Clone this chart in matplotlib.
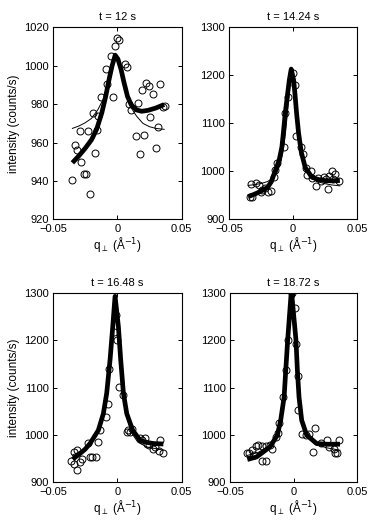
#!/usr/bin/env python3
"""Four-panel scattering profiles: intensity vs q_perp at four times.
Open circles = data, thin line = symmetric fit, thick line = asymmetric fit."""
import matplotlib; matplotlib.use("Agg")
import matplotlib.pyplot as plt

plt.rcParams["font.family"] = ["Liberation Sans", "DejaVu Sans"]
plt.rcParams["font.size"] = 8

titles = ["t = 12 s", "t = 14.24 s", "t = 16.48 s", "t = 18.72 s"]
xticks = [-0.05, 0, 0.05]
xticklabels = ["\u22120.05", "0", "0.05"]
yticks_first = [920, 940, 960, 980, 1000, 1020]
yticks_rest = [900, 1000, 1100, 1200, 1300]

# --- t = 12 s ---
q1 = [-0.0349, -0.0211, -0.0255, -0.0242, -0.0330, -0.0315, -0.0279, -0.0174,
      -0.0289, -0.0224, -0.0159, -0.0190, -0.0146, -0.0125, -0.0036, -0.0089,
      -0.0076, -0.0052, -0.0016, -0.0003, 0.0010, 0.0057, 0.0076, 0.0224,
      0.0245, 0.0193, 0.0276, 0.0331, 0.0089, 0.0161, 0.0109, 0.0370,
      0.0354, 0.0258, 0.0315, 0.0146, 0.0211, 0.0302, 0.0174]
i1 = [940.7, 933.5, 943.8, 943.6, 959.0, 956.3, 949.8, 954.4,
      966.3, 965.9, 966.6, 975.2, 973.8, 983.6, 983.6, 998.3,
      990.7, 1005.3, 1010.2, 1014.5, 1013.6, 1001.0, 999.3, 991.0,
      989.3, 987.6, 985.5, 990.3, 980.0, 980.7, 977.2, 979.1,
      978.6, 973.4, 967.9, 963.4, 963.8, 957.2, 954.0]
fit_q1 = [-0.0349, -0.030, -0.025, -0.020, -0.016, -0.012, -0.009, -0.006, -0.004,
          -0.0016, 0.0005, 0.003, 0.005, 0.008, 0.011, 0.015, 0.019, 0.024, 0.030, 0.0365]
fit_i1 = [949.5, 953.0, 957.0, 961.5, 967.0, 975.5, 984.0, 994.0, 1000.0,
          1005.5, 1003.5, 998.0, 992.0, 984.0, 979.5, 977.0, 976.3, 976.8, 978.0, 979.8]
sym_q1 = [-0.0349, -0.030, -0.025, -0.020, -0.015, -0.011, -0.008, -0.005, -0.003, -0.0015,
          0.0, 0.0015, 0.003, 0.005, 0.008, 0.011, 0.015, 0.020, 0.025, 0.030, 0.0365]
sym_i1 = [967.4, 968.6, 970.3, 972.6, 977.2, 982.5, 989.0, 996.5, 1001.5, 1004.5,
          1004.8, 1002.5, 998.0, 991.0, 983.5, 978.0, 973.8, 970.0, 968.3, 967.4, 966.9]

# --- t = 14.24 s ---
q2 = [-0.0341, -0.0320, -0.0333, -0.0289, -0.0268, -0.0242, -0.0195, -0.0176,
      -0.0250, -0.0220, -0.0002, 0.0017, -0.0042, -0.0067, 0.0022, -0.0075,
      0.0064, -0.0127, -0.0140, -0.0153, 0.0147, 0.0077, 0.0103, 0.0137,
      0.0110, 0.0181, 0.0215, 0.0241, 0.0280, 0.0301, 0.0327, 0.0359,
      0.0275, 0.0254, 0.0314, 0.0198]
i2 = [946.2, 946.2, 973.3, 976.6, 971.8, 961.4, 957.9, 960.0,
      957.0, 965.0, 1205.0, 1180.0, 1155.6, 1121.0, 1073.8, 1051.5,
      1051.5, 1018.0, 1003.0, 989.0, 985.7, 1036.3, 1006.5, 1001.6,
      991.9, 969.7, 980.7, 989.0, 990.5, 1001.6, 994.7, 980.7,
      962.8, 983.5, 984.0, 987.0]
fit_q2 = [-0.0352, -0.030, -0.025, -0.020, -0.017, -0.0153, -0.0125, -0.0109, -0.0088,
          -0.0077, -0.0062, -0.0043, -0.003, -0.0015, 0.0004, 0.0014, 0.0027, 0.0043,
          0.0064, 0.0095, 0.0147, 0.020, 0.025, 0.030, 0.0366]
fit_i2 = [947.5, 953, 959, 967, 979, 992, 1012, 1024, 1051,
          1079, 1121, 1162, 1190, 1213, 1190, 1162, 1121, 1079,
          1040, 1008, 988, 983, 981, 980.5, 981]
sym_q2 = [-0.0352, -0.030, -0.025, -0.020, -0.016, -0.013, -0.010, -0.008, -0.006, -0.004,
          -0.0025, -0.0012, 0.0003, 0.0015, 0.003, 0.005, 0.007, 0.010, 0.014, 0.018,
          0.024, 0.030, 0.0366]
sym_i2 = [971, 972.5, 975, 979, 986, 996, 1015, 1040, 1080, 1135,
          1180, 1210, 1190, 1160, 1120, 1075, 1040, 1010, 990, 980,
          975, 972, 970]

# --- t = 16.48 s ---
q3 = [-0.0339, -0.0313, -0.0339, -0.0313, -0.0272, -0.0228, -0.0214, -0.0194,
      -0.0168, -0.0292, -0.0358, -0.0150, -0.0025, 0.0001, -0.0012, -0.0062,
      0.0016, 0.0048, -0.0069, -0.0087, -0.0134, 0.0074, 0.0113, 0.0084,
      0.0097, 0.0180, 0.0195, 0.0215, 0.0331, 0.0279, 0.0326, 0.0357,
      0.0235, 0.0250, 0.0295]
i3 = [938.6, 925.9, 964.5, 968.1, 950.5, 982.2, 954.0, 954.0,
      954.0, 943.4, 945.0, 985.6, 1217.4, 1200.0, 1252.0, 1140.0,
      1101.5, 1084.0, 1065.0, 1038.3, 1010.0, 1006.7, 1011.7, 1010.2,
      1006.7, 992.7, 990.0, 994.0, 989.0, 969.5, 966.6, 962.4,
      982.0, 978.0, 975.0]
fit_q3 = [-0.0347, -0.029, -0.025, -0.0212, -0.0147, -0.0108, -0.0082, -0.0056, -0.0035,
          -0.0017, 0.0009, 0.0027, 0.0048, 0.0074, 0.012, 0.0177, 0.022, 0.0281, 0.0359]
fit_i3 = [949, 961, 970, 982, 1010, 1045, 1088, 1158, 1228,
          1292, 1228, 1158, 1088, 1045, 1010, 989, 985, 982, 981]
sym_q3 = [-0.0347, -0.028, -0.021, -0.015, -0.011, -0.0083, -0.0057, -0.0036, -0.0017,
          0.0008, 0.0026, 0.0047, 0.0072, 0.011, 0.016, 0.023, 0.0359]
sym_i3 = [958, 966, 980, 1006, 1040, 1084, 1152, 1222, 1285,
          1222, 1152, 1084, 1040, 1005, 985, 975, 968]

# --- t = 18.72 s ---
q4 = [-0.0015, 0.0011, -0.0047, 0.0018, -0.0062, 0.0037, -0.0081, 0.0037,
      -0.0113, -0.0120, -0.0351, -0.0246, -0.0220, -0.0364, -0.0325, -0.0298,
      -0.0277, -0.0246, -0.0215, -0.0188, -0.0172, -0.0311, -0.0141, 0.0063,
      0.0121, 0.0168, 0.0264, 0.0152, 0.0356, 0.0325, 0.0343, 0.0278,
      0.0317, 0.0095, 0.0212]
i4 = [1298.0, 1266.7, 1200.0, 1191.5, 1136.7, 1124.0, 1079.0, 1052.4,
      1024.4, 1003.3, 961.1, 945.5, 945.5, 961.1, 968.1, 976.5,
      980.0, 976.5, 976.5, 978.6, 969.5, 957.5, 996.0, 1001.8,
      1001.8, 1013.8, 989.1, 964.5, 990.4, 961.1, 961.1, 975.0,
      969.5, 1000.0, 982.2]
fit_q4 = [-0.0364, -0.029, -0.0186, -0.0128, -0.0102, -0.0075, -0.0062, -0.0047, -0.0018,
          0.0018, 0.0029, 0.0042, 0.0063, 0.0102, 0.0181, 0.027, 0.0364]
fit_i4 = [948.4, 954, 975, 999.7, 1031, 1080, 1137, 1200, 1305,
          1200, 1137, 1080, 1031, 1000, 982, 980.5, 980.7]
sym_q4 = [-0.0364, -0.028, -0.019, -0.013, -0.010, -0.0075, -0.006, -0.0045, -0.0017,
          0.0015, 0.0027, 0.004, 0.006, 0.010, 0.017, 0.026, 0.0364]
sym_i4 = [957, 963, 978, 1000, 1030, 1078, 1130, 1195, 1295,
          1195, 1130, 1078, 1030, 996, 980, 973, 968]

panels = [(q1, i1, fit_q1, fit_i1, sym_q1, sym_i1),
          (q2, i2, fit_q2, fit_i2, sym_q2, sym_i2),
          (q3, i3, fit_q3, fit_i3, sym_q3, sym_i3),
          (q4, i4, fit_q4, fit_i4, sym_q4, sym_i4)]

# axes boxes in figure fractions (379 x 526 px)
boxes = [(0.1398, 0.5827, 0.3391, 0.3654), (0.6050, 0.5827, 0.3369, 0.3654),
         (0.1398, 0.0827, 0.3391, 0.3612), (0.6069, 0.0827, 0.3359, 0.3612)]

fig = plt.figure(figsize=(3.79, 5.26), dpi=100)
for k, (box, (q, i, fq, fi, sq, si)) in enumerate(zip(boxes, panels)):
    ax = fig.add_axes(box)
    ax.plot(q, i, "o", mfc="none", mec="k", ms=5, mew=0.7)
    ax.plot(sq, si, "-", color="k", lw=0.7)
    ax.plot(fq, fi, "-", color="k", lw=3.4, solid_capstyle="butt")
    ax.set_xlim(-0.05, 0.05)
    ax.set_xticks(xticks); ax.set_xticklabels(xticklabels)
    if k == 0:
        ax.set_ylim(920, 1020); ax.set_yticks(yticks_first)
    else:
        ax.set_ylim(900, 1300); ax.set_yticks(yticks_rest)
    if k % 2 == 0:
        ax.set_ylabel("intensity (counts/s)", fontsize=8.5, labelpad=3)
    ax.set_xlabel(r"q$_{\perp}$ (Å$^{-1}$)", fontsize=8.5, labelpad=1)
    ax.set_title(titles[k], fontsize=8, pad=5)
    ax.tick_params(direction="in", top=True, right=True, length=3, width=0.7,
                   pad=3, labelsize=8)
    for s in ax.spines.values():
        s.set_linewidth(0.8)

fig.savefig("out.png", dpi=100)
print("wrote out.png")
